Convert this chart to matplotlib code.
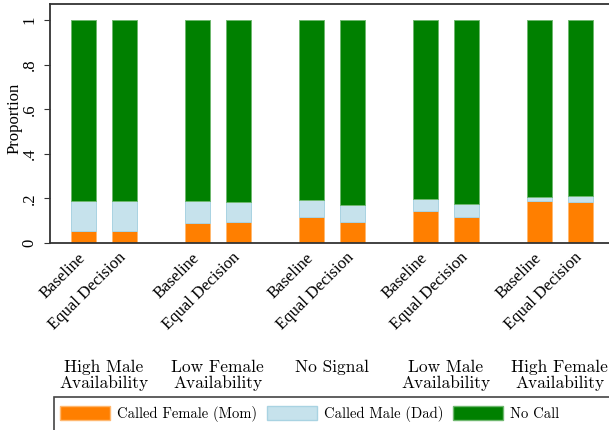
import numpy as np
import matplotlib
matplotlib.use('Agg')
from matplotlib import pyplot as plt
from matplotlib import transforms
from matplotlib.patches import Rectangle, Patch

# share of calls per condition
groups = ['High Male\nAvailability', 'Low Female\nAvailability', 'No Signal',
          'Low Male\nAvailability', 'High Female\nAvailability']
conditions = ['Baseline', 'Equal Decision']
called_mom = [0.052, 0.052, 0.090, 0.092, 0.115, 0.095, 0.143, 0.115, 0.187, 0.182]
called_dad = [0.138, 0.135, 0.100, 0.093, 0.079, 0.074, 0.056, 0.061, 0.019, 0.029]
no_call = [0.810, 0.813, 0.810, 0.815, 0.806, 0.831, 0.801, 0.824, 0.794, 0.789]
y_ticks = [0, 0.2, 0.4, 0.6, 0.8, 1.0]
y_tick_labels = ['0', '.2', '.4', '.6', '.8', '1']
legend_labels = ['Called Female (Mom)', 'Called Male (Dad)', 'No Call']

orange = '#ff7f00'
ltblue = '#c6e2ec'
green = '#008000'

serif = ['Liberation Serif', 'DejaVu Serif']
cm = ['cmr10', 'DejaVu Serif']

fig = plt.figure(figsize=(6.09, 4.30), dpi=100)
W, H = 609, 430
ax = fig.add_axes([50 / W, (H - 243) / H, (612 - 50) / W, (243 - 4) / H])

group_step = 2.78
x = []
for g in range(len(groups)):
    for k in range(len(conditions)):
        x.append(g * group_step + k)
x = np.array(x)

mom = np.array(called_mom)
dad = np.array(called_dad)
nc = np.array(no_call)
width = 0.61
ax.bar(x, mom, width, color=orange, edgecolor='#ffb870', linewidth=0.7)
ax.bar(x, dad, width, bottom=mom, color=ltblue, edgecolor='#a9d3e2', linewidth=0.7)
ax.bar(x, nc, width, bottom=mom + dad, color=green, edgecolor='#6fb86f', linewidth=0.7)

ax.set_xlim(-0.805, 12.9)
ax.set_ylim(0, 1.072)

ax.set_yticks(y_ticks)
ax.set_yticklabels(y_tick_labels, rotation=90, va='center', family=serif, fontsize=12)
ax.tick_params(axis='y', length=4, pad=5, color='#333333')

ax.set_xticks(x)
ax.set_xticklabels(conditions * len(groups), rotation=45, ha='right', va='center',
                   rotation_mode='anchor', family=serif, fontsize=12)
ax.tick_params(axis='x', length=0, pad=9)

ax.set_ylabel('Proportion', family=serif, fontsize=12)
ax.yaxis.set_label_coords((23 - 50) / 562, 0.52)

for side in ['left', 'bottom', 'top']:
    ax.spines[side].set_color('#333333')
    ax.spines[side].set_linewidth(1.3)
ax.spines['right'].set_visible(False)

# group names under the tick labels
name_trans = transforms.blended_transform_factory(ax.transData, fig.transFigure)
for g, name in enumerate(groups):
    cx = g * group_step + 0.5
    ax.text(cx, (H - 360) / H, name, transform=name_trans,
            ha='center', va='top', multialignment='center', family=cm, fontsize=12.5,
            linespacing=0.95)

# legend box running off the edge, like the original
fig.patches.append(Rectangle((54 / W, -0.05), 0.98, (H - 397) / H + 0.05,
                             transform=fig.transFigure, fill=False,
                             edgecolor='#444444', linewidth=1.2))
handles = [Patch(facecolor=orange, edgecolor='#ffb870'),
           Patch(facecolor=ltblue, edgecolor='#a9d3e2'),
           Patch(facecolor=green, edgecolor='#6fb86f')]
fig.legend(handles, legend_labels, loc='center left', bbox_to_anchor=(57 / W, (H - 414) / H),
           ncol=3, frameon=False, prop={'family': cm, 'size': 10.5},
           handlelength=3.4, handleheight=1.1, handletextpad=0.5, columnspacing=0.7,
           borderpad=0.2, borderaxespad=0)

fig.savefig('out.png', dpi=100)
